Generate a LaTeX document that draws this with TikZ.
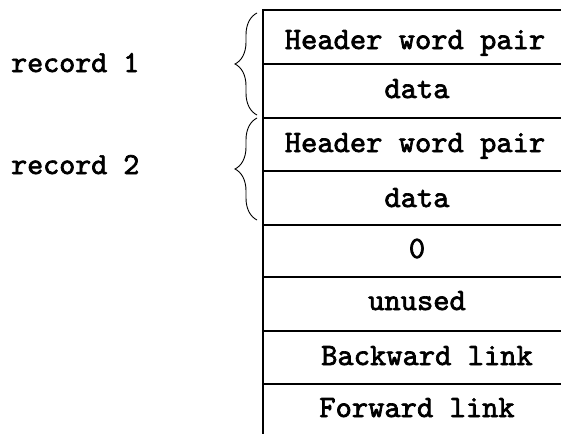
\documentclass[tikz,border=0pt]{standalone}
\usepackage{fontspec}
\newfontfamily\typew{lmmono10-regular.otf}[FakeBold=2.2]
\usetikzlibrary{decorations.pathreplacing}
\begin{document}
\begin{tikzpicture}[x=1pt,y=-1pt,
  txt/.style={font=\fontsize{31}{34}\selectfont\typew, inner sep=0pt, anchor=base},
  lbl/.style={font=\fontsize{30.5}{34}\selectfont\typew, inner sep=0pt, anchor=base west},
  rule/.style={line width=1.1pt},
  wall/.style={line width=2pt},
  bracestyle/.style={line width=0.9pt, decorate, decoration={brace, amplitude=22pt, aspect=0.5}}]
\useasboundingbox (0,0) rectangle (561,434);
% rows
\foreach \y in {10,64,118,171,225,277,331,384}{
  \draw[rule] (263,\y) -- (561,\y);
}
\coordinate (wtop) at (263,9);
\coordinate (wbot) at (263,434);
\draw[wall] (wtop) -- (wbot);
\node[txt] (r1) at (415,49) {Header word pair};
\node[txt] (r2) at (417,98) {data};
\node[txt] (r3) at (415,152) {Header word pair};
\node[txt] (r4) at (417,207) {data};
\node[txt] (r5) at (417,258) {0};
\node[txt] (r6) at (417,310) {unused};
\node[txt] (r7) at (427,365) {Backward link};
\node[txt] (r8) at (417,417) {Forward link};
% labels
\node[lbl] (rec1) at (11,72) {record 1};
\node[lbl] (rec2) at (11,174) {record 2};
% braces
\coordinate (b1a) at (257,115);
\coordinate (b1b) at (257,13);
\coordinate (b2a) at (257,220);
\coordinate (b2b) at (257,118);
\draw[bracestyle] (b1a) -- (b1b);
\draw[bracestyle] (b2a) -- (b2b);
\end{tikzpicture}
\end{document}
